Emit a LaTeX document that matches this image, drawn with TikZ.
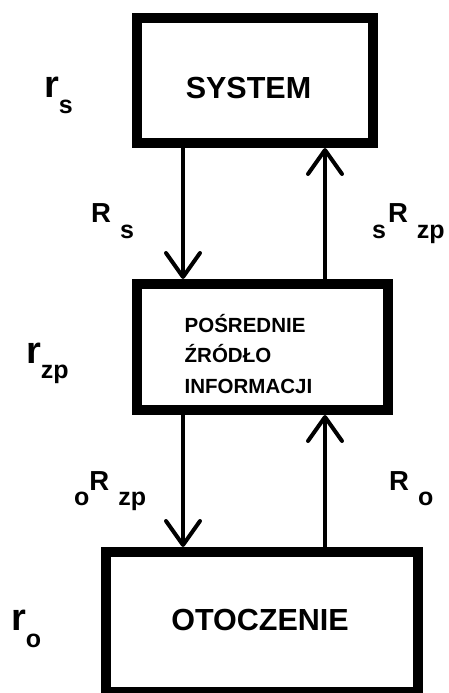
\documentclass[tikz,border=0pt]{standalone}
\usepackage{fontspec}
\setmainfont{Liberation Sans}
\usepackage{tikz}
\usetikzlibrary{arrows.meta}

\newcommand{\fr}{\fontsize{38}{38}\selectfont}
\newcommand{\fR}{\fontsize{27.5}{27.5}\selectfont}
\newcommand{\fsub}{\fontsize{25}{25}\selectfont}
\newcommand{\lowsub}[2][16pt]{\raisebox{-#1}{\fsub #2}}

\begin{document}
\begin{tikzpicture}[x=1pt,y=-1pt,
  box/.style={draw,line width=10pt,inner sep=0pt},
  flow/.style={line width=4pt,-{Straight Barb[length=24pt,width=34pt,round]}},
  lab/.style={anchor=base west,inner sep=0pt,font=\bfseries}]
\useasboundingbox (0,0) rectangle (449,693);
% boxes
\node[box,minimum width=236pt,minimum height=125pt] (sys) at (255,80.5) {};
\node[box,minimum width=251pt,minimum height=126pt] (src) at (262.5,347) {};
\node[box,minimum width=312.5pt,minimum height=140pt] (env) at (262,622) {};
\node[anchor=base,inner sep=0pt,font=\bfseries\fontsize{30.5}{30.5}\selectfont] (sysT) at (248.5,98) {SYSTEM};
\node[anchor=base west,inner sep=0pt,align=left,font=\bfseries\fontsize{20.5}{30.5}\selectfont] (srcT) at (184.5,393) {POŚREDNIE\\ŹRÓDŁO\\INFORMACJI};
\node[anchor=base,inner sep=0pt,font=\bfseries\fontsize{30.5}{30.5}\selectfont] (envT) at (260,630) {OTOCZENIE};
% connectors
\draw[flow] (sys.south -| 183,0) -- (src.north -| 183,0);
\draw[flow] (src.north -| 325,0) -- (sys.south -| 325,0);
\draw[flow] (src.south -| 183,0) -- (env.north -| 183,0);
\draw[flow] (env.north -| 325,0) -- (src.south -| 325,0);
% labels
\node[lab] (rs) at (44,97) {\fr r\lowsub{s}};
\node[lab] (Rs) at (91,222) {\fR R\hspace{9pt}\lowsub{s}};
\node[lab] (sRzp) at (372,222) {\lowsub{s}\hspace{2pt}\fR R\hspace{9pt}\lowsub{zp}};
\node[lab] (rzp) at (26,363) {\fr r\lowsub[15pt]{zp}};
\node[lab] (oRzp) at (74,490) {\lowsub[15pt]{o}\fR R\hspace{9pt}\lowsub[15pt]{zp}};
\node[lab] (Ro) at (389,490) {\fR R\hspace{9pt}\lowsub[15pt]{o}};
\node[lab] (ro) at (11,630) {\fr r\lowsub[17pt]{o}};
\end{tikzpicture}
\end{document}
